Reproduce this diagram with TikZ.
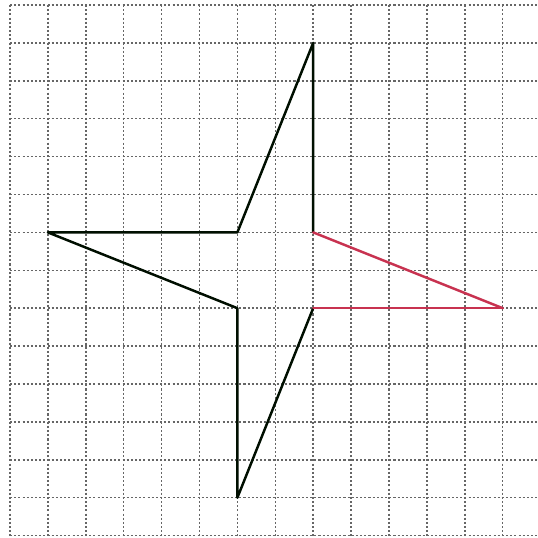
\documentclass[tikz,border=0pt]{standalone}
\begin{document}
\begin{tikzpicture}[
  gridline/.style={draw=black!60, line width=0.04cm, dash pattern=on 0.055cm off 0.055cm},
  blackedge/.style={draw=black!85!green!40!black, line width=0.065cm, line cap=round, line join=round},
  rededge/.style={draw={rgb,255:red,200;green,50;blue,80}, line width=0.065cm, line cap=round}
]
\useasboundingbox (-0.264,0.132) rectangle (13.932,-14.063);
\fill[white] (-0.264,0.132) rectangle (13.932,-14.063);
% grid
\foreach \i in {0,...,13} \draw[gridline] (\i,0) -- (\i,-14.063);
\foreach \j in {0,...,14} \draw[gridline] (0,-\j) -- (13.932,-\j);
% vertices
\coordinate (T) at (8,-1);
\coordinate (L) at (1,-6);
\coordinate (A) at (6,-6);
\coordinate (B) at (8,-6);
\coordinate (R) at (13,-8);
\coordinate (C) at (8,-8);
\coordinate (D) at (6,-8);
\coordinate (Bo) at (6,-13);
% black edges
\draw[blackedge] (B) -- (T) -- (A) -- (L) -- (D) -- (Bo) -- (C);
% red edges
\draw[rededge] (B) -- (R);
\draw[rededge] (C) -- (R);
\end{tikzpicture}
\end{document}
